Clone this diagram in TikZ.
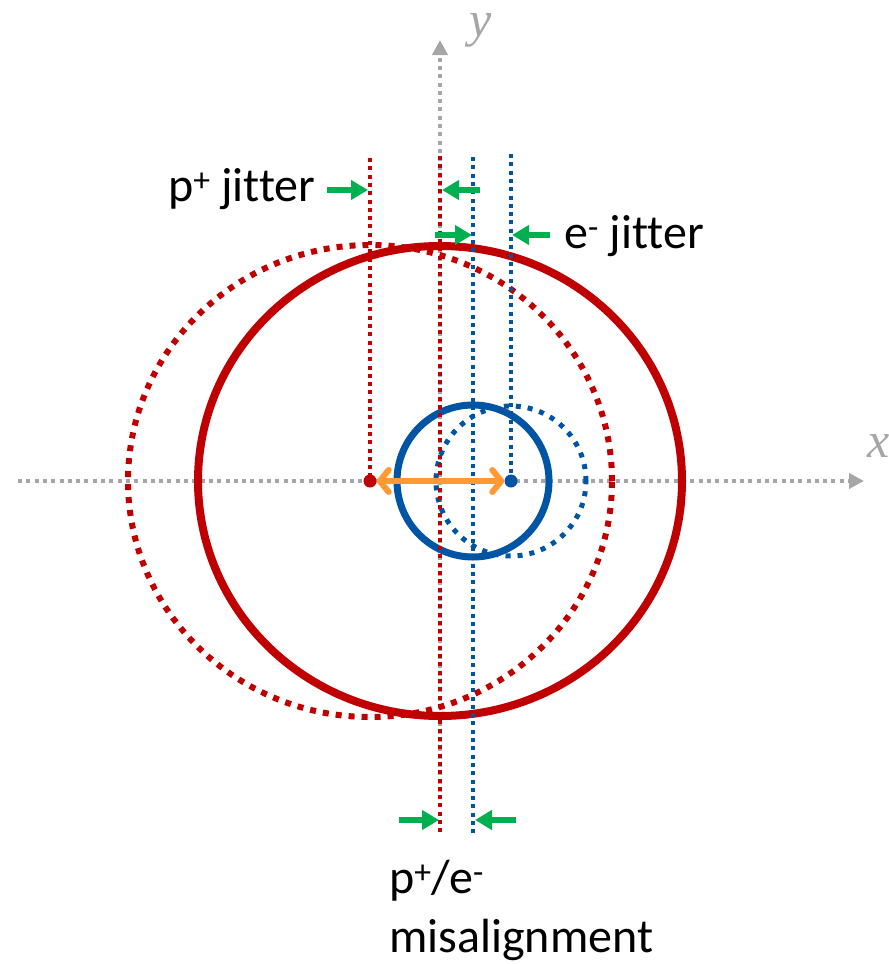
\documentclass[tikz,border=0pt]{standalone}
\usepackage{fontspec}
\setmainfont{Carlito}[Ligatures=NoCommon]
\newfontfamily\axisfont{Liberation Serif}
\usetikzlibrary{arrows.meta}
\definecolor{beamred}{RGB}{192,0,0}
\definecolor{beamblue}{RGB}{0,84,164}
\definecolor{axisgray}{RGB}{166,166,166}
\definecolor{jitgreen}{RGB}{0,176,80}
\definecolor{misorange}{RGB}{255,153,51}
\tikzset{
    axisline/.style={
        draw=axisgray, line width=4pt, dash pattern=on 4pt off 4.3pt,
        -{Triangle[length=15pt, width=15pt]}
    },
    axislabel/.style={
        text=axisgray, inner sep=0pt, font=\axisfont\itshape\fontsize{50}{60}\selectfont
    },
    pbeam/.style={draw=beamred, line width=8pt},
    pbeamjit/.style={draw=beamred, line width=6pt, dash pattern=on 6pt off 7pt},
    ebeam/.style={draw=beamblue, line width=7pt},
    ebeamjit/.style={draw=beamblue, line width=5pt, dash pattern=on 5pt off 7pt},
    guide/.style={line width=3.5pt, dash pattern=on 4pt off 4.3pt},
    jitarrow/.style={
        draw=jitgreen, line width=6pt,
        -{Triangle[length=17pt, width=19pt]}
    },
    misarrow/.style={
        draw=misorange, line width=6pt, line cap=round,
        {Straight Barb[length=9pt, width=22pt, round]}-{Straight Barb[length=9pt, width=22pt, round]}
    },
    beamdot/.style={circle, inner sep=0pt, minimum size=13pt},
    lbl/.style={inner sep=0pt, font=\fontsize{48}{52}\selectfont, align=left}
}

\begin{document}
\begin{tikzpicture}[x=1pt, y=-1pt]
    \useasboundingbox (0,0) rectangle (889,964);

    % axes
    \coordinate (xstart) at (18,481);
    \coordinate (xend) at (864,481);
    \coordinate (ystart) at (440,792);
    \coordinate (yend) at (440,40);
    \draw[axisline] (xstart) -- (xend);
    \draw[axisline] (ystart) -- (yend);
    \node[axislabel] (xlab) at (879,446) {x};
    \node[axislabel] (ylab) at (481,30) {y};

    % beam spots
    \coordinate (pnom) at (440,481);
    \coordinate (pjit) at (370,481);
    \coordinate (enom) at (473,481);
    \coordinate (ejit) at (511,481);
    \draw[pbeamjit] (pjit) ellipse [x radius=242pt, y radius=236pt];
    \draw[pbeam] (pnom) ellipse [x radius=242pt, y radius=235pt];
    \draw[ebeamjit] (ejit) circle [radius=75pt];
    \draw[ebeam] (enom) circle [radius=76pt];

    % guide lines
    \coordinate (pjittop) at (370,158);
    \coordinate (pnomtop) at (440,156);
    \coordinate (pnombot) at (440,835);
    \coordinate (enomtop) at (473,157);
    \coordinate (enombot) at (473,835);
    \coordinate (ejittop) at (511,154);
    \draw[guide, draw=beamred] (pjittop) -- (pjit);
    \draw[guide, draw=beamred] (pnomtop) -- (pnombot);
    \draw[guide, draw=beamblue] (enomtop) -- (enombot);
    \draw[guide, draw=beamblue] (ejittop) -- (ejit);

    % centres and misalignment
    \node[beamdot, fill=beamred] (pdot) at (pjit) {};
    \node[beamdot, fill=beamblue] (edot) at (ejit) {};
    \draw[misarrow] (pdot) -- (edot);

    % jitter arrows
    \coordinate (a1s) at (327,190);
    \coordinate (a1e) at (368,190);
    \coordinate (a2s) at (480,190);
    \coordinate (a2e) at (442,190);
    \coordinate (a3s) at (435,235);
    \coordinate (a3e) at (472,235);
    \coordinate (a4s) at (550,235);
    \coordinate (a4e) at (512,235);
    \coordinate (a5s) at (399,820);
    \coordinate (a5e) at (439,820);
    \coordinate (a6s) at (516,820);
    \coordinate (a6e) at (475,820);
    \draw[jitarrow] (a1s) -- (a1e);
    \draw[jitarrow] (a2s) -- (a2e);
    \draw[jitarrow] (a3s) -- (a3e);
    \draw[jitarrow] (a4s) -- (a4e);
    \draw[jitarrow] (a5s) -- (a5e);
    \draw[jitarrow] (a6s) -- (a6e);

    % labels
    \node[lbl, anchor=base west] (pjitlab) at (168,201) {p\textsuperscript{+} jitter};
    \node[lbl, anchor=base west] (ejitlab) at (564,248) {e\textsuperscript{-} jitter};
    \node[lbl, anchor=base west] (mislab) at (389,952) {p\textsuperscript{+}/e\textsuperscript{-}\\[7pt]misalignment};
\end{tikzpicture}
\end{document}
